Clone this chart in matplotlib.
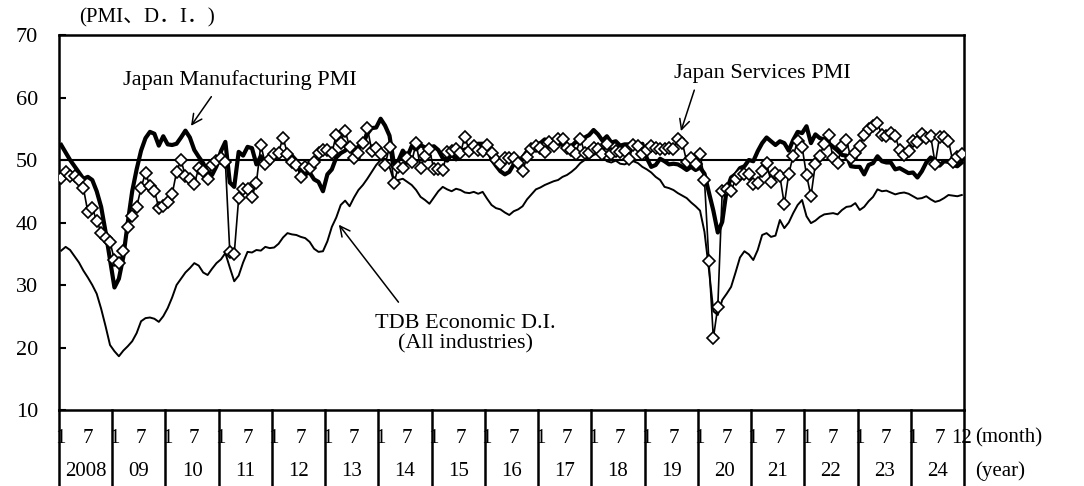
import matplotlib
matplotlib.use("Agg")
import matplotlib.pyplot as plt
import numpy as np

plt.rcParams['font.family'] = ['Liberation Serif', 'Noto Sans CJK JP']

# monthly data, Jan 2008 - Dec 2024
years = ['2008', '09', '10', '11', '12', '13', '14', '15', '16',
         '17', '18', '19', '20', '21', '22', '23', '24']

manufacturing_pmi = [
    52.4, 51.2, 50.0, 49.0, 48.0, 47.0, 47.3, 46.8, 45.0, 42.5, 38.5, 34.0,
    29.6, 31.0, 34.5, 40.0, 45.0, 48.5, 51.5, 53.5, 54.5, 54.2, 52.3, 53.8,
    52.5, 52.4, 52.6, 53.6, 54.7, 53.6, 51.6, 50.5, 49.5, 48.0, 47.6, 49.0,
    51.4, 52.9, 46.4, 45.7, 51.3, 50.7, 52.1, 51.9, 49.3, 50.6, 49.1, 50.2,
    50.7, 50.5, 51.1, 50.7, 50.7, 49.9, 47.9, 47.7, 48.0, 46.9, 46.5, 45.0,
    47.7, 48.5, 50.4, 51.1, 51.5, 52.3, 50.7, 52.2, 52.5, 54.2, 55.1, 55.2,
    56.6, 55.5, 53.9, 49.4, 49.9, 51.5, 50.5, 52.2, 51.7, 52.4, 52.0, 52.0,
    52.2, 51.6, 50.3, 49.9, 50.9, 50.1, 51.2, 51.7, 51.0, 52.4, 52.6, 52.6,
    52.3, 50.1, 49.1, 48.2, 47.7, 48.1, 49.3, 49.5, 50.4, 51.4, 51.3, 52.4,
    52.7, 53.3, 52.4, 52.7, 53.1, 52.4, 52.1, 52.2, 52.9, 52.8, 53.6, 54.0,
    54.8, 54.1, 53.1, 53.8, 52.8, 53.0, 52.3, 52.5, 52.5, 52.9, 52.2, 52.6,
    50.3, 48.9, 49.2, 50.2, 49.8, 49.3, 49.4, 49.3, 48.9, 48.4, 48.9, 48.4,
    48.8, 47.8, 44.8, 41.9, 38.4, 40.1, 45.2, 47.2, 47.7, 48.7, 49.0, 50.0,
    49.8, 51.4, 52.7, 53.6, 53.0, 52.4, 53.0, 52.7, 51.5, 53.2, 54.5, 54.3,
    55.4, 52.7, 54.1, 53.5, 53.3, 52.7, 52.1, 51.5, 50.8, 50.7, 49.0, 48.9,
    48.9, 47.7, 49.2, 49.5, 50.6, 49.8, 49.6, 49.6, 48.5, 48.7, 48.3, 47.9,
    48.0, 47.2, 48.2, 49.6, 50.4, 50.0, 49.1, 49.8, 49.7, 49.2, 49.0, 49.6,
]

services_pmi = [
    47.1, 48.1, 47.4, 47.4, 46.8, 45.5, 41.7, 42.3, 40.3, 38.4, 37.6, 36.9,
    34.0, 33.6, 35.4, 39.2, 41.0, 42.5, 45.5, 48.0, 45.8, 45.1, 42.3, 42.6,
    43.3, 44.5, 48.1, 50.0, 47.4, 46.9, 46.2, 48.7, 48.3, 46.9, 49.2, 49.9,
    50.3, 49.7, 35.3, 35.0, 43.9, 45.3, 45.3, 44.1, 46.4, 52.4, 49.4, 50.1,
    51.0, 51.2, 53.6, 51.0, 49.7, 49.2, 47.3, 48.9, 48.8, 49.7, 51.2, 51.6,
    51.6, 51.1, 54.0, 52.8, 54.7, 52.1, 50.4, 51.2, 52.8, 55.2, 51.5, 51.9,
    51.0, 49.2, 52.1, 46.3, 48.9, 48.7, 50.3, 49.7, 52.7, 48.7, 50.6, 51.7,
    48.5, 48.5, 48.4, 51.3, 51.5, 51.8, 51.2, 53.7, 51.4, 52.2, 51.6, 51.5,
    52.4, 51.2, 50.0, 49.3, 50.4, 50.4, 50.4, 49.6, 48.2, 50.5, 51.8, 52.3,
    51.9, 51.3, 52.9, 52.2, 53.4, 53.3, 52.0, 51.6, 51.0, 53.4, 51.2, 51.1,
    51.9, 51.7, 50.9, 52.5, 51.0, 51.4, 51.3, 51.5, 50.2, 52.4, 52.3, 51.0,
    51.6, 52.3, 52.0, 51.8, 51.7, 51.9, 51.8, 53.3, 52.8, 49.7, 50.3, 49.4,
    51.0, 46.8, 33.8, 21.5, 26.5, 45.0, 45.4, 45.0, 46.9, 47.7, 47.8, 47.7,
    46.1, 46.3, 48.3, 49.5, 46.5, 48.0, 47.4, 42.9, 47.8, 50.7, 53.0, 52.1,
    47.6, 44.2, 49.4, 50.7, 52.6, 54.0, 50.3, 49.5, 52.2, 53.2, 50.3, 51.1,
    52.3, 54.0, 55.0, 55.4, 55.9, 54.0, 53.8, 54.3, 53.8, 51.6, 50.8, 51.5,
    53.1, 52.9, 54.1, 53.6, 53.8, 49.4, 53.7, 53.7, 53.1, 49.7, 50.5, 50.9,
]

tdb_di = [
    35.5, 36.1, 35.6, 34.6, 33.6, 32.3, 31.2, 30.0, 28.6, 26.2, 23.4, 20.4,
    19.4, 18.6, 19.5, 20.2, 21.0, 22.3, 24.2, 24.7, 24.8, 24.6, 24.1, 25.0,
    26.3, 28.0, 30.0, 31.0, 32.0, 32.7, 33.5, 33.1, 32.0, 31.6, 32.6, 33.5,
    34.1, 35.1, 32.8, 30.6, 31.5, 33.6, 35.3, 35.2, 35.6, 35.5, 36.1, 35.9,
    36.0, 36.6, 37.6, 38.3, 38.1, 38.0, 37.7, 37.5, 36.9, 35.8, 35.3, 35.4,
    37.0, 39.3, 40.8, 42.8, 43.5, 42.6, 44.0, 45.2, 46.0, 47.0, 48.1, 49.2,
    50.0, 50.2, 48.9, 46.6, 46.8, 47.0, 46.5, 46.0, 45.2, 44.1, 43.6, 43.0,
    44.0, 45.0, 45.7, 45.3, 45.0, 45.4, 45.2, 44.8, 44.7, 44.9, 44.6, 44.9,
    43.8, 42.8, 42.3, 42.1, 41.6, 41.2, 41.8, 42.1, 42.6, 43.7, 44.5, 45.3,
    45.6, 46.0, 46.3, 46.6, 46.8, 47.3, 47.6, 48.1, 48.7, 49.5, 50.0, 50.3,
    50.8, 51.1, 50.5, 49.8, 49.6, 49.9, 49.4, 49.3, 49.6, 49.8, 49.5, 48.9,
    48.5, 48.0, 47.3, 46.8, 45.7, 45.5, 45.2, 44.7, 44.3, 43.9, 43.2, 42.6,
    41.9, 38.5, 32.5, 25.8, 25.2, 27.6, 28.6, 29.7, 32.0, 34.4, 35.4, 34.9,
    34.0, 35.6, 38.0, 38.3, 37.7, 37.9, 40.4, 39.1, 40.0, 41.5, 42.8, 43.6,
    41.0, 39.9, 40.3, 40.9, 41.3, 41.4, 41.5, 41.3, 42.0, 42.5, 42.6, 43.1,
    42.0, 42.5, 43.4, 44.1, 45.3, 45.0, 45.1, 44.8, 44.5, 44.7, 44.8, 44.6,
    44.2, 43.8, 43.9, 44.2, 43.7, 43.3, 43.5, 43.9, 44.4, 44.3, 44.2, 44.4,
]

n = len(manufacturing_pmi)
x = np.arange(n) + 0.5

fig = plt.figure(figsize=(10.84, 4.86), dpi=100)
ax = fig.add_axes([59 / 1084, 1 - 410 / 486, 905 / 1084, 375 / 486])

# reference line at 50
ax.axhline(50, color='black', lw=1.5, zorder=1)

ax.plot(x, tdb_di, color='black', lw=1.4, zorder=2)
ax.plot(x, manufacturing_pmi, color='black', lw=3.0, zorder=3,
        solid_joinstyle='round')
ax.plot(x, services_pmi, color='black', lw=1.2, marker='D', markersize=5.8,
        markerfacecolor='white', markeredgecolor='black', markeredgewidth=1.2,
        zorder=4)

ax.set_xlim(0, n)
ax.set_ylim(10, 70)
ax.set_yticks(range(10, 71, 10))
ax.set_xticks([])
ax.tick_params(axis='y', direction='in', length=5, width=1.5,
               labelsize=16, pad=15)
for s in ax.spines.values():
    s.set_linewidth(1.8)

# custom category axis below the plot
trans = ax.get_xaxis_transform()
bottom = -(486 - 410) / 375
for k in range(len(years) + 1):
    ax.plot([12 * k, 12 * k], [0, bottom], transform=trans, color='black',
            lw=1.8, clip_on=False)
for k, yr in enumerate(years):
    ax.text(12 * k + 0.4, -0.075, '1', transform=trans, ha='center',
            va='center', fontsize=15)
    ax.text(12 * k + 6.5, -0.075, '7', transform=trans, ha='center',
            va='center', fontsize=15)
    ax.text(12 * k + 6, -0.163, yr, transform=trans, ha='center',
            va='center', fontsize=15)
ax.text(n - 0.5, -0.075, '12', transform=trans, ha='center', va='center',
        fontsize=15)
ax.text(1.012, -0.075, '(month)', transform=ax.transAxes, ha='left',
        va='center', fontsize=15)
ax.text(1.012, -0.163, '(year)', transform=ax.transAxes, ha='left',
        va='center', fontsize=15)

# unit label
ax.text(0.097, 1.047, '(PMI、D．I．)', transform=ax.transAxes, ha='center',
        va='center', fontsize=15)

# series labels with arrows
arrow = dict(arrowstyle='->', lw=1.1, color='black', mutation_scale=18)
ax.text(40.8, 62.8, 'Japan Manufacturing PMI', ha='center', va='center',
        fontsize=16)
ax.annotate('', xy=(29.4, 55.1), xytext=(34.7, 60.5), arrowprops=arrow)

ax.text(158.6, 63.9, 'Japan Services PMI', ha='center', va='center',
        fontsize=16)
ax.annotate('', xy=(140.0, 54.2), xytext=(143.4, 61.6), arrowprops=arrow)

ax.text(91.7, 22.2, 'TDB Economic D.I.\n(All industries)', ha='center',
        va='center', fontsize=16, linespacing=1.1)
ax.annotate('', xy=(62.7, 40.0), xytext=(76.9, 26.9), arrowprops=arrow)

fig.savefig('out.png', dpi=100)
